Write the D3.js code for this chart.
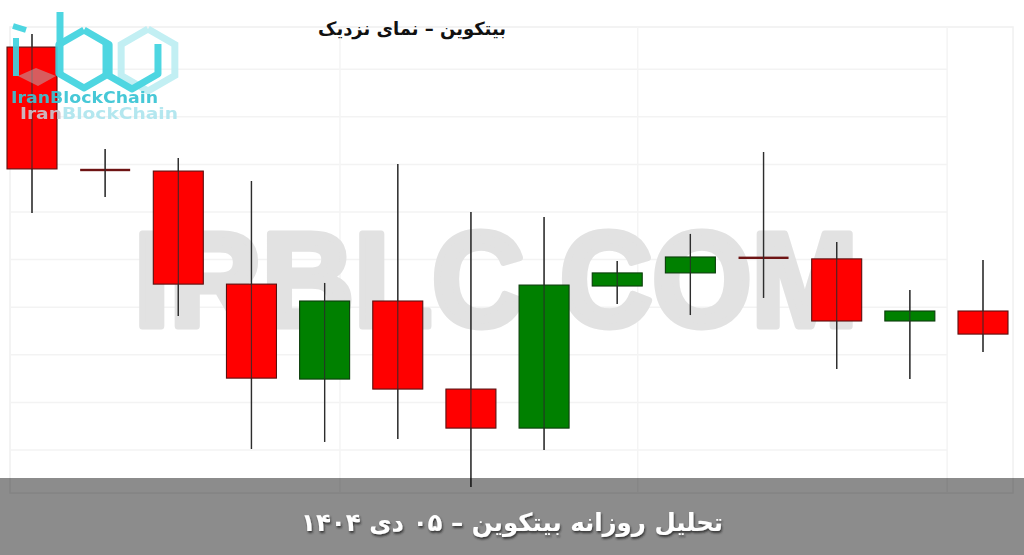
<!DOCTYPE html>
<html><head><meta charset="utf-8">
<script src="https://cdn.jsdelivr.net/npm/d3@7"></script>
<style>
html,body{margin:0;padding:0;background:#fff;overflow:hidden}
svg{display:block}
</style></head>
<body>
<script>
// ---- data (BTC, USD) ----
const days  = [0,1,2,3,4,5,6,7,8,9,10,11,12,13];
const open  = [88693,88177,88172,87697,87298,87626,87256,87092,87689,87744,87808,87803,87542,87584];
const high  = [88748,88265,88227,88130,87702,88202,88000,87979,87794,87908,88252,87874,87672,87798];
const low   = [87996,88063,87563,87004,87034,87046,86845,87000,87613,87567,87639,87340,87298,87412];
const close = [88181,88176,87697,87302,87626,87256,87092,87693,87744,87811,87807,87542,87584,87487];
const priceTicks = [87000,87200,87400,87600,87800,88000,88200,88400,88600];
const timeTicks  = [4.21,8.28,12.51];
const title = "بیتکوین – نمای نزدیک";
const caption = "تحلیل روزانه بیتکوین – ۰۵ دی ۱۴۰۴";
const watermark = "IRBLC.COM";
const brand = "IranBlockChain";

const W = 1024, H = 555;
const svg = d3.select("body").append("svg").attr("width", W).attr("height", H);

const x = d3.scaleLinear().domain([0, 13]).range([32, 983]);
const y = d3.scaleLinear().domain([87000, 88600]).range([450, 69.2]);
const bodyW = 50;
const frame = {l: 10, r: 1013, t: 27, b: 493};

// frame + grid
const g = svg.append("g");
g.append("rect").attr("x", frame.l).attr("y", frame.t)
  .attr("width", frame.r - frame.l).attr("height", frame.b - frame.t)
  .attr("fill", "none").attr("stroke", "#f0f0f0").attr("stroke-width", 1.5);
g.selectAll("line.h").data(priceTicks).join("line").attr("class","h")
  .attr("x1", frame.l).attr("x2", x(timeTicks[2]))
  .attr("y1", d => y(d)).attr("y2", d => y(d))
  .attr("stroke", "#f3f3f3").attr("stroke-width", 1.5);
g.selectAll("line.v").data(timeTicks).join("line").attr("class","v")
  .attr("x1", d => x(d)).attr("x2", d => x(d))
  .attr("y1", frame.t).attr("y2", frame.b)
  .attr("stroke", "#f4f4f4").attr("stroke-width", 1.5);

// watermark
svg.append("text").attr("x", 134).attr("y", 326)
  .attr("textLength", 724).attr("lengthAdjust", "spacingAndGlyphs")
  .attr("font-family", "'Liberation Sans', Arial, sans-serif")
  .attr("font-weight", "bold").attr("font-size", 134)
  .attr("fill", "#e2e2e2").attr("stroke", "#e2e2e2").attr("stroke-width", 7)
  .attr("stroke-linejoin", "round").text(watermark);

// candles
const data = days.map((d, i) => ({i: d, o: open[i], h: high[i], l: low[i], c: close[i]}));
const cg = svg.append("g");
cg.selectAll("line.wick").data(data).join("line").attr("class","wick")
  .attr("x1", d => x(d.i)).attr("x2", d => x(d.i))
  .attr("y1", d => y(d.h)).attr("y2", d => y(d.l))
  .attr("stroke", "#3a3a3a").attr("stroke-width", 1.3);
cg.selectAll("rect.body").data(data).join("rect").attr("class","body")
  .attr("x", d => x(d.i) - bodyW / 2).attr("width", bodyW)
  .attr("y", d => {
    const h = Math.abs(y(d.o) - y(d.c));
    return h < 2 ? y((d.o + d.c) / 2) - 1.2 : Math.min(y(d.o), y(d.c));
  })
  .attr("height", d => Math.max(2.4, Math.abs(y(d.o) - y(d.c))))
  .attr("fill", d => {
    const h = Math.abs(y(d.o) - y(d.c));
    if (h < 2) return "#6e1414";
    return d.c >= d.o ? "#008000" : "#ff0000";
  })
  .attr("stroke", d => d.c >= d.o ? "#0b3d0b" : "#5a1010")
  .attr("stroke-width", d => Math.abs(y(d.o) - y(d.c)) < 2 ? 0 : 1.1);
// wick drawn through body as well
cg.selectAll("line.wick2").data(data).join("line").attr("class","wick2")
  .attr("x1", d => x(d.i)).attr("x2", d => x(d.i))
  .attr("y1", d => y(d.h)).attr("y2", d => y(d.l))
  .attr("stroke", "#2a2a2a").attr("stroke-opacity", 0.8).attr("stroke-width", 1.2);

// logo
const logo = svg.append("g").attr("opacity", 0.92);
function hexPath(cx, cy, r, a0, a1) {
  const pts = [];
  for (let a = a0; a <= a1; a += 60) {
    const t = a * Math.PI / 180;
    pts.push([cx + r * Math.cos(t), cy + r * Math.sin(t)]);
  }
  return d3.line()(pts);
}
const cyan = "#40d3df";
logo.append("path").attr("d", hexPath(148, 60, 31, -90, 270))
  .attr("fill", "none").attr("stroke", "#bdeef3").attr("stroke-width", 7);
logo.append("path").attr("d", hexPath(132, 59, 30, -30, 210))
  .attr("fill", "none").attr("stroke", cyan).attr("stroke-width", 7)
  .attr("stroke-linejoin", "round");
logo.append("path").attr("d", hexPath(84, 59, 29, -90, 270))
  .attr("fill", "none").attr("stroke", cyan).attr("stroke-width", 7)
  .attr("stroke-linejoin", "round");
logo.append("line").attr("x1", 60).attr("x2", 60).attr("y1", 12).attr("y2", 74)
  .attr("stroke", cyan).attr("stroke-width", 7);
logo.append("path").attr("d", "M13,26 L26,30 M16,38 L16,76")
  .attr("fill", "none").attr("stroke", cyan).attr("stroke-width", 6)
  .attr("stroke-linejoin", "round");
logo.append("path").attr("d", "M18,76 L36,68 L56,76 L38,86 Z")
  .attr("fill", "#b9a6aa").attr("opacity", 0.6);
logo.append("text").attr("x", 11).attr("y", 103)
  .attr("textLength", 147).attr("lengthAdjust", "spacingAndGlyphs")
  .attr("font-family", "'DejaVu Sans', sans-serif").attr("font-weight", "bold")
  .attr("font-size", 15).attr("fill", "#38c4d4").text(brand);
const t2 = logo.append("text").attr("x", 20).attr("y", 119)
  .attr("textLength", 158).attr("lengthAdjust", "spacingAndGlyphs")
  .attr("font-family", "'DejaVu Sans', sans-serif").attr("font-weight", "bold")
  .attr("font-size", 15).attr("fill", "#aee5ee");
t2.append("tspan").attr("fill", "#c9c4cc").text(brand.slice(0, 4));
t2.append("tspan").text(brand.slice(4));

// title
svg.append("text").attr("x", 412).attr("y", 35)
  .attr("text-anchor", "middle").attr("direction", "rtl")
  .attr("textLength", 188).attr("lengthAdjust", "spacingAndGlyphs")
  .attr("font-family", "'DejaVu Sans', sans-serif").attr("font-weight", "bold")
  .attr("font-size", 18).attr("fill", "#111").text(title);

// bottom band
svg.append("rect").attr("x", 0).attr("y", 478).attr("width", W).attr("height", H - 478)
  .attr("fill", "#000").attr("fill-opacity", 0.45);
const defs = svg.append("defs");
const f = defs.append("filter").attr("id", "sh").attr("x", "-10%").attr("y", "-30%")
  .attr("width", "120%").attr("height", "160%");
f.append("feDropShadow").attr("dx", 1).attr("dy", 2).attr("stdDeviation", 1)
  .attr("flood-color", "#222").attr("flood-opacity", 0.8);
svg.append("text").attr("x", 512).attr("y", 531)
  .attr("text-anchor", "middle").attr("direction", "rtl")
  .attr("textLength", 422).attr("lengthAdjust", "spacingAndGlyphs")
  .attr("font-family", "'DejaVu Sans', sans-serif").attr("font-weight", "bold")
  .attr("font-size", 25).attr("fill", "#fff").attr("filter", "url(#sh)")
  .text(caption);
</script>
</body></html>
